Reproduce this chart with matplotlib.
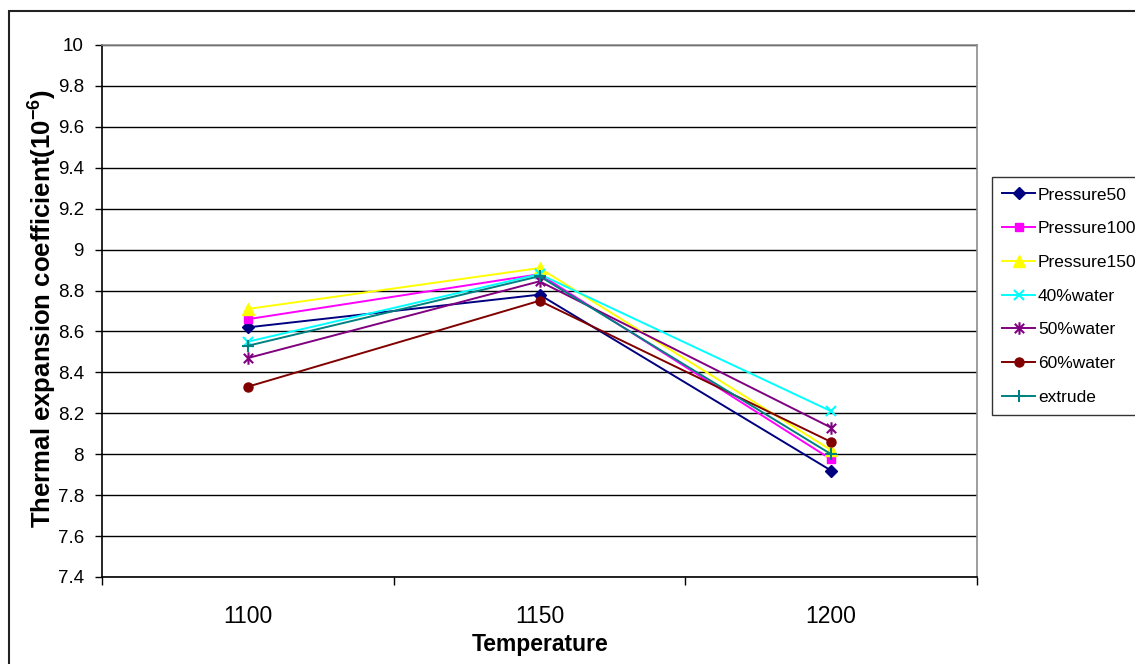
import numpy as np
import matplotlib
matplotlib.use("Agg")
import matplotlib.pyplot as plt
from matplotlib.path import Path
from matplotlib.patches import Rectangle

plt.rcParams['font.family'] = ['Liberation Sans', 'DejaVu Sans']
plt.rcParams['mathtext.fontset'] = 'custom'
plt.rcParams['mathtext.bf'] = 'Liberation Sans:bold'
plt.rcParams['mathtext.rm'] = 'Liberation Sans:bold'
plt.rcParams['mathtext.default'] = 'bf'

# Sintering temperatures (categories)
temperatures = ["1100", "1150", "1200"]

# Thermal expansion coefficient (x10^-6) for each sample series
pressure50 = [8.62, 8.78, 7.92]
pressure100 = [8.66, 8.88, 7.975]
pressure150 = [8.71, 8.91, 8.02]
water40 = [8.55, 8.88, 8.21]
water50 = [8.47, 8.845, 8.13]
water60 = [8.33, 8.75, 8.06]
extrude = [8.53, 8.87, 8.0]

series_names = ["Pressure50", "Pressure100", "Pressure150",
                "40%water", "50%water", "60%water", "extrude"]

y_ticks = [7.4, 7.6, 7.8, 8.0, 8.2, 8.4, 8.6, 8.8, 9.0, 9.2, 9.4, 9.6, 9.8, 10.0]

# asterisk marker: vertical stroke plus an X
star_path = Path(
    [(0, -1), (0, 1), (-0.75, -0.75), (0.75, 0.75), (-0.75, 0.75), (0.75, -0.75)],
    [Path.MOVETO, Path.LINETO, Path.MOVETO, Path.LINETO, Path.MOVETO, Path.LINETO])

styles = [
    dict(color="#000080", marker="D", ms=6, mec="#000080", mfc="#000080"),
    dict(color="#FF00FF", marker="s", ms=6, mec="#FF00FF", mfc="#FF00FF"),
    dict(color="#FFFF00", marker="^", ms=8, mec="#FFFF00", mfc="#FFFF00"),
    dict(color="#00FFFF", marker="x", ms=7, mew=1.5, mec="#00FFFF"),
    dict(color="#800080", marker=star_path, ms=9, mew=1.5, mec="#800080"),
    dict(color="#800000", marker="o", ms=6.5, mec="#800000", mfc="#800000"),
    dict(color="#008080", marker="+", ms=9, mew=1.5, mec="#008080"),
]

W, H = 1135, 664
fig = plt.figure(figsize=(W / 100, H / 100), dpi=100)
fig.patch.set_facecolor("white")

ax = fig.add_axes([102 / W, 1 - 577 / H, 875 / W, 532 / H])

x = np.arange(len(temperatures))
all_series = [pressure50, pressure100, pressure150, water40, water50, water60, extrude]
for name, vals, st in zip(series_names, all_series, styles):
    ax.plot(x, vals, lw=1.4, label=name, **st)

ax.set_xlim(-0.5, len(temperatures) - 0.5)
ax.set_ylim(7.4, 10.0)

# category boundaries carry the tick marks; labels sit at category centres
ax.set_xticks(np.arange(-0.5, len(temperatures), 1.0))
ax.set_xticklabels([])
ax.set_xticks(x, minor=True)
ax.set_xticklabels(temperatures, minor=True, fontsize=16.5)
ax.tick_params(axis="x", which="major", direction="out", length=6, width=1, color="black")
ax.tick_params(axis="x", which="minor", length=0, pad=20)

ax.set_yticks(y_ticks)
ax.set_yticklabels([f"{v:g}" for v in y_ticks], fontsize=13.5)
ax.tick_params(axis="y", direction="out", length=5, width=1, pad=8, color="black")

ax.yaxis.grid(True, color="black", lw=1)
ax.set_axisbelow(True)

ax.spines["left"].set_color("black")
ax.spines["bottom"].set_color("black")
ax.spines["top"].set_color("#8c8c8c")
ax.spines["right"].set_color("#8c8c8c")
for sp in ax.spines.values():
    sp.set_linewidth(1.2)

fig.text(540 / W, 1 - 645 / H, "Temperature", ha="center", va="center",
         fontsize=16.5, fontweight="bold")
fig.text(43 / W, 1 - 309 / H, r"Thermal expansion coefficient(10$^{-6}$)",
         ha="center", va="center", rotation=90, fontsize=18.5, fontweight="bold")

leg = fig.legend(loc="upper left", bbox_to_anchor=(992 / W, 1 - 177 / H),
                 bbox_transform=fig.transFigure, borderaxespad=0,
                 fontsize=12.5, frameon=True, fancybox=False, shadow=False,
                 handlelength=1.9, handletextpad=0.15, borderpad=0.6,
                 labelspacing=1.07)
leg.get_frame().set_edgecolor("black")
leg.get_frame().set_linewidth(1.0)

# outer chart border
fig.patches.append(Rectangle((9 / W, -0.1), 1.2, (1 - 11 / H) + 0.1,
                             transform=fig.transFigure, fill=False,
                             edgecolor="#222222", lw=1.5))

fig.savefig("out.png", dpi=100)
